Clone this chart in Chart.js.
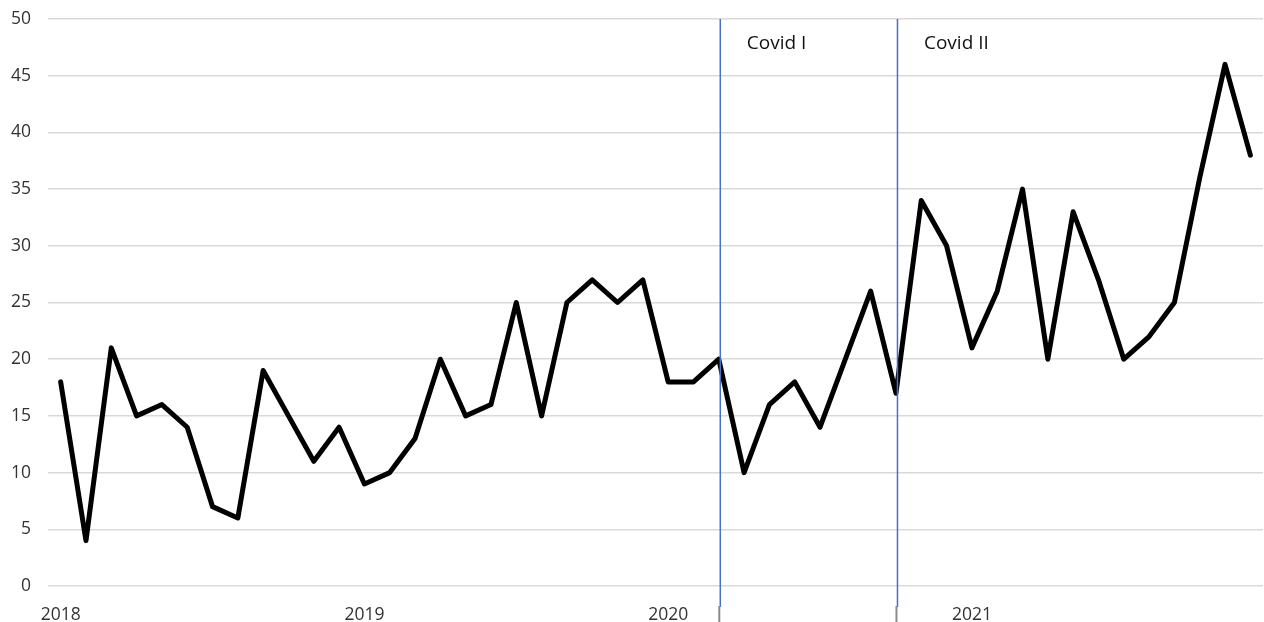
<!DOCTYPE html>
<html>
<head>
<meta charset="utf-8">
<script src="https://cdn.jsdelivr.net/npm/chart.js@4/dist/chart.umd.min.js"></script>
<style>
html,body{margin:0;padding:0;background:#fff;}
#wrap{width:1264px;height:622px;position:relative;}
</style>
</head>
<body>
<div id="wrap"><canvas id="c" width="1264" height="622"></canvas></div>
<script>
const years = ['2018', '2019', '2020', '2021'];
const values = [18, 4, 21, 15, 16, 14, 7, 6, 19, 15, 11, 14,
                9, 10, 13, 20, 15, 16, 25, 15, 25, 27, 25, 27,
                18, 18, 20, 10, 16, 18, 14, 20, 26, 17, 34, 30,
                21, 26, 35, 20, 33, 27, 20, 22, 25, 36, 46, 38];
const markerIndex = [26, 33];
const markerText = ['Covid I', 'Covid II'];
const yTicks = [0, 5, 10, 15, 20, 25, 30, 35, 40, 45, 50];

const labels = values.map((v, i) => (i % 12 === 0 ? years[i / 12] : ''));

const markers = {
  id: 'markers',
  afterDatasetsDraw(chart) {
    const ctx = chart.ctx;
    const xs = chart.scales.x;
    const top = chart.chartArea.top;
    ctx.save();
    markerIndex.forEach((idx, k) => {
      const x = xs.getPixelForValue(idx);
      ctx.strokeStyle = '#4472C4';
      ctx.lineWidth = 1.5;
      ctx.beginPath();
      ctx.moveTo(x + 1.5, top);
      ctx.lineTo(x + 1.5, 607);
      ctx.stroke();
      ctx.fillStyle = '#8a8a8a';
      ctx.fillRect(x - 0.5, 606, 2, 16);
      ctx.fillStyle = '#111';
      ctx.font = '19px "Open Sans", sans-serif';
      ctx.textBaseline = 'alphabetic';
      ctx.textAlign = 'left';
      ctx.fillText(markerText[k], x + 28, 49);
    });
    ctx.restore();
  }
};

new Chart(document.getElementById('c'), {
  type: 'line',
  data: {
    labels: labels,
    datasets: [{
      data: values,
      borderColor: '#000',
      borderWidth: 5,
      borderJoinStyle: 'round',
      borderCapStyle: 'round',
      pointRadius: 0,
      pointHoverRadius: 0,
      tension: 0,
      fill: false
    }]
  },
  options: {
    responsive: false,
    animation: false,
    devicePixelRatio: 1,
    layout: { autoPadding: false, padding: { top: 19, right: 1, left: 0, bottom: 0 } },
    plugins: { legend: { display: false }, tooltip: { enabled: false } },
    scales: {
      x: {
        offset: true,
        grid: { display: false, drawTicks: false },
        border: { display: false },
        afterFit(s) { s.height = 36; s.paddingLeft = 0; s.paddingRight = 0; },
        ticks: {
          autoSkip: false, maxRotation: 0, minRotation: 0,
          padding: 19,
          color: '#333',
          font: { family: '"Open Sans", sans-serif', size: 17.5 }
        }
      },
      y: {
        min: 0, max: 50,
        afterFit(s) { s.width = 48; s.paddingTop = 0; s.paddingBottom = 0; },
        afterBuildTicks(s) { s.ticks = yTicks.map(v => ({ value: v })); },
        grid: { color: '#d9d9d9', lineWidth: 1.5, drawTicks: false },
        border: { display: false },
        ticks: {
          padding: 17,
          color: '#333',
          font: { family: '"Open Sans", sans-serif', size: 17.5 }
        }
      }
    }
  },
  plugins: [markers]
});
</script>
</body>
</html>
